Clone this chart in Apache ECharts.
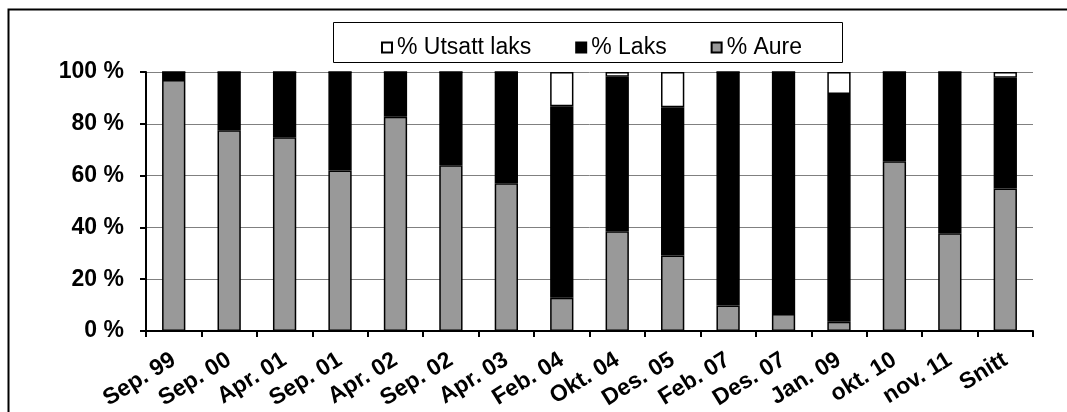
<!DOCTYPE html>
<html>
<head>
<meta charset="utf-8">
<script src="https://cdn.jsdelivr.net/npm/echarts@6/dist/echarts.min.js"></script>
<style>
  html, body { margin: 0; padding: 0; background: #fff; }
  #chart { width: 1067px; height: 412px; }
</style>
</head>
<body>
<div id="chart"></div>
<script>
// Sampling dates (last column is the average)
const categories = ['Sep. 99', 'Sep. 00', 'Apr. 01', 'Sep. 01', 'Apr. 02', 'Sep. 02', 'Apr. 03',
  'Feb. 04', 'Okt. 04', 'Des. 05', 'Feb. 07', 'Des. 07', 'Jan. 09', 'okt. 10', 'nov. 11', 'Snitt'];

// Share of catch per group, in percent
const aure    = [96.9, 77.5, 74.8, 62.0, 82.7, 64.0, 57.0, 12.8, 38.5, 29.1, 9.8, 6.6, 3.6, 65.5, 37.7, 55.0];
const laks    = [3.1, 22.5, 25.2, 38.0, 17.3, 36.0, 43.0, 74.0, 59.7, 57.3, 90.2, 93.4, 87.9, 34.5, 62.3, 42.8];
const utsatt  = [0, 0, 0, 0, 0, 0, 0, 13.2, 1.8, 13.6, 0, 0, 8.5, 0, 0, 2.2];

const yTicks = { min: 0, max: 100, interval: 20 };

const FONT = '"Liberation Sans", Arial, sans-serif';
const chart = echarts.init(document.getElementById('chart'), null, { renderer: 'canvas' });

const barCommon = {
  type: 'bar',
  stack: 'total',
  barWidth: '42%'
};

chart.setOption({
  animation: false,
  backgroundColor: '#fff',
  graphic: [
    // outer frame
    { type: 'rect', shape: { x: 8.5, y: 9.5, width: 1200, height: 600 },
      style: { fill: 'none', stroke: '#000', lineWidth: 2 }, silent: true },
    // legend frame
    { type: 'rect', shape: { x: 333.5, y: 22.5, width: 509, height: 40 },
      style: { fill: '#fff', stroke: '#000', lineWidth: 1 }, silent: true, z: -1 }
  ],
  legend: {
    data: ['% Utsatt laks', '% Laks', '% Aure'],
    left: 376,
    top: 31,
    itemWidth: 10,
    itemHeight: 10,
    itemGap: 44,
    icon: 'rect',
    textStyle: { fontFamily: FONT, fontSize: 23, color: '#000' }
  },
  grid: { left: 146, right: 34, top: 72, bottom: 81, containLabel: false },
  xAxis: {
    type: 'category',
    data: categories,
    boundaryGap: true,
    axisLine: { lineStyle: { color: '#000', width: 2 } },
    axisTick: { show: true, interval: 0, length: 6, lineStyle: { color: '#000', width: 2 } },
    axisLabel: {
      interval: 0, rotate: 32, margin: 27,
      fontFamily: FONT, fontSize: 23, fontWeight: 'bold', color: '#000'
    },
    splitLine: { show: false }
  },
  yAxis: {
    type: 'value',
    min: yTicks.min, max: yTicks.max, interval: yTicks.interval,
    axisLine: { show: true, lineStyle: { color: '#000', width: 2 } },
    axisTick: { show: true, length: 6, lineStyle: { color: '#000', width: 2 } },
    axisLabel: {
      formatter: '{value} %', margin: 22,
      fontFamily: FONT, fontSize: 23, fontWeight: 'bold', color: '#000'
    },
    splitLine: { show: true, lineStyle: { color: '#808080', width: 1 } }
  },
  series: [
    Object.assign({}, barCommon, { name: '% Aure', data: aure,
      itemStyle: { color: '#999999', borderColor: '#000', borderWidth: 1.5 } }),
    Object.assign({}, barCommon, { name: '% Laks', data: laks,
      itemStyle: { color: '#000000', borderColor: '#000', borderWidth: 1.5 } }),
    Object.assign({}, barCommon, { name: '% Utsatt laks', data: utsatt,
      itemStyle: { color: '#ffffff', borderColor: '#000', borderWidth: 1.5 } })
  ]
});
</script>
</body>
</html>
